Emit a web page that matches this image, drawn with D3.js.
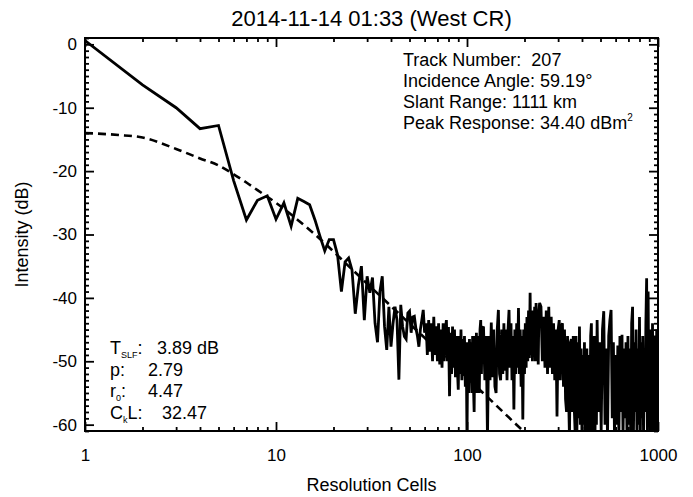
<!DOCTYPE html>
<html>
<head>
<meta charset="utf-8">
<script src="https://cdn.jsdelivr.net/npm/d3@7"></script>
<style>
body { margin: 0; background: #fff; }
text { font-family: "Liberation Sans", Arial, Helvetica, sans-serif; fill: #000; white-space: pre; }
</style>
</head>
<body>
<svg id="chart" width="693" height="497"></svg>
<script>
var titleString = "2014-11-14 01:33 (West CR)";
var xLabel = "Resolution Cells";
var yLabel = "Intensity (dB)";
var xTicks = [1, 10, 100, 1000];
var yTicks = [0, -10, -20, -30, -40, -50, -60];

// sampled cells: every cell up to 120, then 60 samples per octave
var cells = [].concat(d3.range(1, 121), d3.range(122, 241, 2), d3.range(244, 481, 4), d3.range(488, 1001, 8));
var intensity = [
	// 1..60
	0.6, -6.4, -10.0, -13.3, -12.8, -21.5, -27.7, -24.6, -23.9, -27.6,
	-25.0, -28.7, -24.3, -24.8, -25.3, -27.7, -30.3, -32.6, -30.8, -30.8,
	-33.2, -39.0, -34.3, -33.7, -35.6, -42.5, -38.0, -35.0, -43.5, -36.6,
	-39.2, -36.8, -44.0, -47.0, -39.0, -36.6, -44.5, -48.2, -41.4, -47.7,
	-44.0, -41.4, -43.5, -52.9, -41.1, -44.5, -46.1, -46.5, -42.4, -42.1,
	-45.5, -43.0, -42.9, -44.8, -46.0, -47.7, -45.0, -43.5, -41.9, -45.5,
	// 61..120
	-44.0, -49.0, -43.5, -48.5, -44.0, -50.0, -43.0, -49.0, -44.5, -50.0,
	-44.0, -50.5, -45.0, -51.0, -44.0, -50.0, -45.0, -43.5, -50.0, -44.6,
	-55.5, -45.5, -52.0, -44.5, -51.0, -45.0, -52.5, -46.0, -51.0, -54.5,
	-46.0, -52.0, -45.0, -53.0, -46.5, -52.0, -46.0, -54.0, -47.0, -62.0,
	-47.0, -55.0, -46.5, -53.0, -47.0, -55.0, -46.0, -53.5, -58.0, -46.0,
	-53.0, -45.5, -55.0, -46.0, -52.0, -55.0, -45.0, -43.5, -52.0, -45.0,
	// 122..240 step 2
	-44.5, -53.0, -46.0, -62.0, -46.0, -53.0, -43.9, -52.5, -45.0, -54.0,
	-55.0, -45.0, -41.9, -52.0, -53.0, -45.0, -52.0, -44.0, -51.5, -45.0,
	-53.0, -45.0, -41.9, -51.0, -44.0, -53.0, -46.0, -57.6, -45.0, -52.0,
	-44.0, -51.0, -41.6, -52.0, -45.0, -54.0, -46.0, -59.2, -45.0, -52.0,
	-44.0, -51.0, -43.0, -50.0, -42.0, -49.5, -39.2, -49.0, -43.0, -50.0,
	-42.0, -49.0, -41.4, -50.0, -40.8, -49.5, -43.0, -50.5, -42.0, -40.8,
	// 244..480 step 4
	-41.4, -50.0, -43.0, -51.0, -42.0, -52.0, -41.4, -51.0, -43.0, -52.0,
	-44.0, -53.0, -45.0, -58.7, -45.0, -43.5, -53.0, -44.5, -44.0, -54.0,
	-45.0, -56.0, -58.0, -46.0, -55.0, -62.0, -47.0, -46.5, -58.0, -46.0,
	-57.0, -61.0, -46.0, -62.0, -47.0, -59.0, -44.5, -60.0, -48.0, -62.0,
	-49.0, -60.0, -47.0, -62.0, -50.0, -48.0, -62.0, -51.0, -49.0, -61.0,
	-46.0, -44.0, -62.0, -48.0, -61.0, -46.0, -62.0, -46.0, -60.0, -43.5,
	// 488..1000 step 8
	-58.0, -47.0, -61.0, -45.0, -42.1, -60.0, -48.0, -62.0, -46.0, -43.5,
	-41.9, -59.0, -47.0, -62.0, -49.0, -60.0, -47.5, -62.0, -46.0, -58.0,
	-45.8, -62.0, -48.0, -59.0, -47.0, -62.0, -46.0, -60.0, -48.0, -62.0,
	-44.0, -41.4, -61.0, -47.0, -58.0, -45.0, -62.0, -48.0, -60.0, -43.0,
	-62.0, -47.0, -59.0, -46.0, -62.0, -49.0, -58.0, -44.0, -36.9, -62.0,
	-39.0, -60.0, -47.0, -62.0, -45.0, -58.0, -44.0, -62.0, -47.0, -60.0,
	-46.0, -62.0, -45.0, -58.0, -47.0
];

// fitted model (dashed)
var modelCells = [1, 1.5, 2, 3, 4, 5, 6, 7, 8, 10, 13, 17, 25, 40, 60, 100, 137, 180, 200];
var modelDb = [-14.0, -14.3, -14.7, -16.5, -18.0, -19.1, -20.5, -21.8, -23.0, -25.0,
	-27.7, -30.7, -35.5, -41.3, -46.3, -52.6, -56.5, -59.9, -61.2];

var trackInfo = ["Track Number:  207", "Incidence Angle: 59.19\u00b0", "Slant Range: 1111 km", "Peak Response: 34.40 dBm"];
var fitNames = [["T", "SLF", ""], ["p", "", ""], ["r", "0", ""], ["C", "k", "L"]];
var fitValues = ["3.89 dB", "2.79", "4.47", "32.47"];

var svg = d3.select("#chart");
var w = +svg.attr("width"), h = +svg.attr("height");
var plot = { left: 85, right: 658, top: 38, bottom: 431 };

var x = d3.scaleLog().domain([1, 1000]).range([plot.left, plot.right]);
var y = d3.scaleLinear().domain([-61, 1]).range([plot.bottom, plot.top]);

svg.append("rect").attr("width", w).attr("height", h).attr("fill", "#fff");

svg.append("defs").append("clipPath").attr("id", "plot-clip").append("rect")
	.attr("x", plot.left).attr("y", plot.top)
	.attr("width", plot.right - plot.left).attr("height", plot.bottom - plot.top);

var modelLine = d3.line().x(d => x(d[0])).y(d => y(d[1])).curve(d3.curveMonotoneX);
var dataLine = d3.line().x(d => x(d[0])).y(d => y(d[1]));

svg.append("path")
	.datum(d3.zip(modelCells, modelDb))
	.attr("clip-path", "url(#plot-clip)")
	.attr("d", modelLine)
	.attr("fill", "none").attr("stroke", "#000")
	.attr("stroke-width", 2.6).attr("stroke-dasharray", "8,5");

svg.append("path")
	.datum(d3.zip(cells, intensity))
	.attr("clip-path", "url(#plot-clip)")
	.attr("d", dataLine)
	.attr("fill", "none").attr("stroke", "#000")
	.attr("stroke-width", 2.8).attr("stroke-linejoin", "miter");

// axes, IDL style: ticks pointing inward on all four sides
var xMinor = [], yMinor = [];
[1, 10, 100].forEach(function (p) { for (var k = 2; k < 10; k++) xMinor.push(k * p); });
d3.range(-61, 2).forEach(function (v) { if (v % 10 !== 0) yMinor.push(v); });

function addAxis(axis, translate, values, size, labels) {
	var g = svg.append("g").attr("transform", translate)
		.call(axis.tickValues(values).tickSize(-size)
			.tickFormat(labels ? function (d) { return String(d); } : ""));
	g.select(".domain").remove();
	g.selectAll(".tick line").attr("stroke-width", 1.8);
	g.selectAll("text").attr("font-size", 17).attr("font-family", null);
	return g;
}

addAxis(d3.axisLeft(y).tickPadding(8), "translate(" + plot.left + ",0)", yTicks, 9, true);
addAxis(d3.axisLeft(y), "translate(" + plot.left + ",0)", yMinor, 4, false);
addAxis(d3.axisRight(y), "translate(" + plot.right + ",0)", yTicks, 9, false);
addAxis(d3.axisRight(y), "translate(" + plot.right + ",0)", yMinor, 4, false);
addAxis(d3.axisBottom(x).tickPadding(18), "translate(0," + plot.bottom + ")", xTicks, 9, true);
addAxis(d3.axisBottom(x), "translate(0," + plot.bottom + ")", xMinor, 4, false);
addAxis(d3.axisTop(x), "translate(0," + plot.top + ")", xTicks, 9, false);
addAxis(d3.axisTop(x), "translate(0," + plot.top + ")", xMinor, 4, false);

svg.append("rect")
	.attr("x", plot.left).attr("y", plot.top)
	.attr("width", plot.right - plot.left).attr("height", plot.bottom - plot.top)
	.attr("fill", "none").attr("stroke", "#000").attr("stroke-width", 2);

// titles
svg.append("text").attr("x", (plot.left + plot.right) / 2).attr("y", 26)
	.attr("text-anchor", "middle").attr("font-size", 22).text(titleString);
svg.append("text").attr("x", (plot.left + plot.right) / 2).attr("y", 491)
	.attr("text-anchor", "middle").attr("font-size", 18).text(xLabel);
svg.append("text").attr("transform", "translate(28," + (plot.top + plot.bottom) / 2 + ") rotate(-90)")
	.attr("text-anchor", "middle").attr("font-size", 18).text(yLabel);

// track info, top right
trackInfo.forEach(function (s, i) {
	var t = svg.append("text").attr("x", 403).attr("y", 66 + i * 21).attr("font-size", 18).text(s);
	if (i === 3) t.append("tspan").attr("font-size", 10).attr("dy", -8).text("2");
});

// fit parameters, bottom left: main letter, subscript, rest, each placed after the previous one
fitNames.forEach(function (parts, i) {
	var by = 354 + i * 21.5;
	var cx = 110;
	var main = svg.append("text").attr("x", cx).attr("y", by).attr("font-size", 18).text(parts[0]);
	cx += main.node().getComputedTextLength();
	if (parts[1]) {
		var sub = svg.append("text").attr("x", cx).attr("y", by + 4).attr("font-size", 9).text(parts[1]);
		cx += sub.node().getComputedTextLength();
	}
	svg.append("text").attr("x", cx).attr("y", by).attr("font-size", 18).text(parts[2] + ":");
	svg.append("text").attr("x", [157, 148, 148, 162][i]).attr("y", by)
		.attr("font-size", 18).text(fitValues[i]);
});
</script>
</body>
</html>
